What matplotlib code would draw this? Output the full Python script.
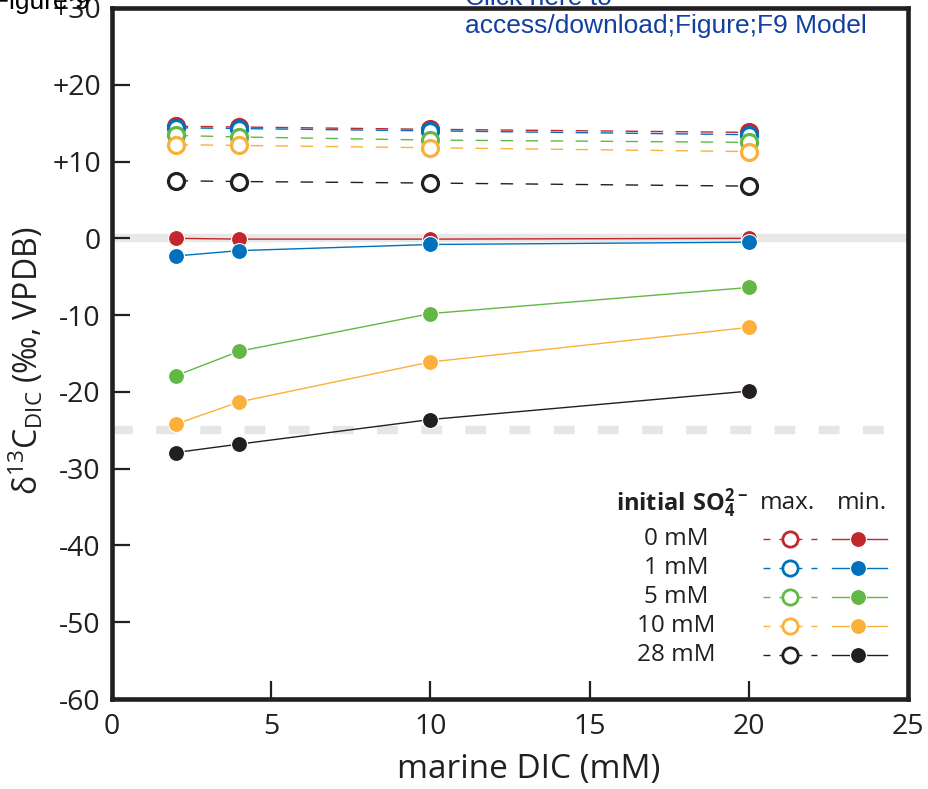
import matplotlib
matplotlib.use('Agg')
import matplotlib.pyplot as plt

# marine DIC (mM) and d13C of DIC (permil, VPDB) for each initial sulfate level
dic = [2, 4, 10, 20]
so4_labels = ['0 mM', '1 mM', '5 mM', '10 mM', '28 mM']
colors = ['#c1272d', '#0071bc', '#62b847', '#fbb03b', '#231f20']

max_vals = [
    [14.6, 14.5, 14.2, 13.8],   # 0 mM
    [14.4, 14.3, 14.0, 13.5],   # 1 mM
    [13.4, 13.2, 12.8, 12.5],   # 5 mM
    [12.2, 12.1, 11.8, 11.3],   # 10 mM
    [7.5, 7.4, 7.2, 6.8],       # 28 mM
]
min_vals = [
    [0.0, -0.1, -0.1, 0.0],
    [-2.3, -1.6, -0.8, -0.5],
    [-17.9, -14.7, -9.8, -6.4],
    [-24.2, -21.3, -16.1, -11.6],
    [-27.9, -26.8, -23.6, -19.9],
]
yticks = [30, 20, 10, 0, -10, -20, -30, -40, -50, -60]
ytick_labels = ['+30', '+20', '+10', '0', '-10', '-20', '-30', '-40', '-50', '-60']
xticks = [0, 5, 10, 15, 20, 25]

plt.rcParams['font.family'] = ['Open Sans', 'DejaVu Sans']
plt.rcParams['mathtext.fontset'] = 'custom'
plt.rcParams['mathtext.rm'] = 'Open Sans'
plt.rcParams['mathtext.bf'] = 'Open Sans:bold'
plt.rcParams['mathtext.default'] = 'regular'

ink = '#231f20'
W, H = 929, 789
fig = plt.figure(figsize=(W / 100, H / 100), dpi=100)
ax = fig.add_axes([112 / W, 1 - 699 / H, 796 / W, 691 / H])

# reference lines: modern seawater and organic matter
ax.axhline(0, color='#e8e8e8', lw=6, zorder=0)
ax.axhline(-25, color='#e6e6e6', lw=6, ls=(0, (2.5, 2.8)), zorder=0)

for i in range(len(so4_labels)):
    c = colors[i]
    ax.plot(dic, max_vals[i], color=c, lw=1, ls=(0, (9, 9)), marker='o', ms=11.5,
            mfc='white', mec=c, mew=2.3, zorder=3)
    ax.plot(dic, min_vals[i], color=c, lw=1, marker='o', ms=11.5,
            mfc=c, mec='white', mew=0.8, zorder=4)

ax.set_xlim(0, 25)
ax.set_ylim(-60, 30)
ax.set_xticks(xticks)
ax.set_yticks(yticks)
ax.set_yticklabels(ytick_labels)
ax.tick_params(direction='in', length=13, width=1.6, color=ink, labelcolor=ink,
               labelsize=20.5)
ax.tick_params(axis='y', pad=8)
ax.tick_params(axis='x', pad=10)
for s in ax.spines.values():
    s.set_linewidth(3.3)
    s.set_color(ink)

ax.set_xlabel('marine DIC (mM)', fontsize=24, color=ink)
ax.xaxis.set_label_coords(0.523, -0.078)
ax.set_ylabel(r'δ$^{13}$C$_{DIC}$ (‰, VPDB)', fontsize=23, color=ink)
ax.yaxis.set_label_coords(-0.083, 0.49)

# legend drawn by hand: label column, then max. (open) and min. (filled)
def fx(px):
    return (px - 112) / 796


def fy(py):
    return (699 - py) / 691


ax.text(fx(748), fy(503), r'$\mathbf{initial\ SO_4^{2-}}$', transform=ax.transAxes,
        ha='right', va='center', fontsize=17, color=ink)
ax.text(fx(788), fy(503), 'max.', transform=ax.transAxes, ha='center',
        va='center', fontsize=17.5, color=ink)
ax.text(fx(862), fy(503), 'min.', transform=ax.transAxes, ha='center',
        va='center', fontsize=17.5, color=ink)
for i, lab in enumerate(so4_labels):
    py = 539 + 29 * i
    c = colors[i]
    ax.text(fx(676), fy(py), lab, transform=ax.transAxes, ha='center',
            va='center', fontsize=17.5, color=ink)
    ax.plot([fx(763), fx(817)], [fy(py), fy(py)], transform=ax.transAxes,
            color=c, lw=1, ls=(0, (5, 6.5)), clip_on=False)
    ax.plot([fx(790)], [fy(py)], transform=ax.transAxes, marker='o', ms=11,
            mfc='white', mec=c, mew=2, clip_on=False)
    ax.plot([fx(832), fx(887)], [fy(py), fy(py)], transform=ax.transAxes,
            color=c, lw=1, clip_on=False)
    ax.plot([fx(858)], [fy(py)], transform=ax.transAxes, marker='o', ms=11.5,
            mfc=c, mec='white', mew=0.8, clip_on=False)

# page header remnants from the submission PDF
fig.text(90 / W, 1 - 9 / H, 'Figure 9', ha='right', va='baseline', fontsize=19,
         family='Liberation Sans', color='black')
fig.text(465 / W, 1 - 5 / H, 'Click here to', va='baseline', fontsize=19,
         family='Liberation Sans', color='#1340a0')
fig.text(465 / W, 1 - 33 / H, 'access/download;Figure;F9 Model', va='baseline',
         fontsize=19, family='Liberation Sans', color='#1340a0')

fig.savefig('out.png', dpi=100)
